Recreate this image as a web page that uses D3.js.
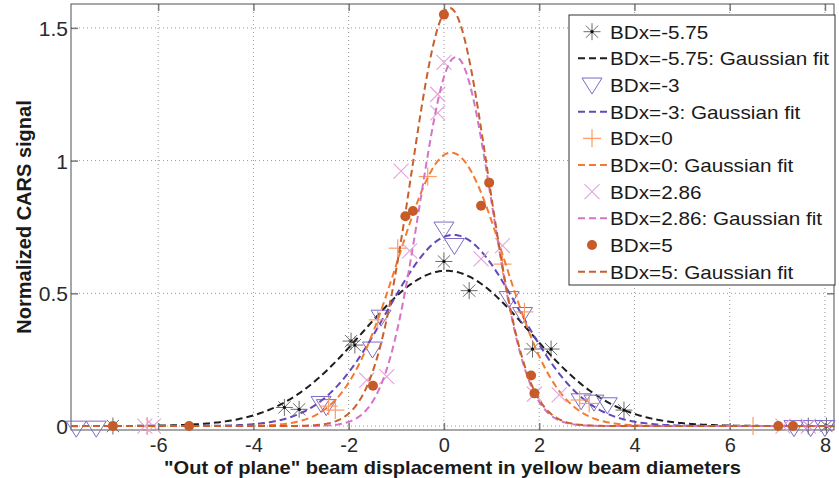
<!DOCTYPE html>
<html><head><meta charset="utf-8">
<script src="https://cdn.jsdelivr.net/npm/d3@7"></script>
<style>html,body{margin:0;padding:0;background:#fff}svg{display:block;font-family:"Liberation Sans",Arial,sans-serif}</style>
</head><body><svg id="c" width="839" height="478"></svg>
<script>
// ---- data ----
const seriesNames = ["BDx=-5.75","BDx=-3","BDx=0","BDx=2.86","BDx=5"];
const xTicks = [-6,-4,-2,0,2,4,6,8];
const xTickLabels = ["-6","-4","-2","0","2","4","6","8"];
const yTicks = [0,0.5,1,1.5];
const yTickLabels = ["0","0.5","1","1.5"];

const s1x = [-6.95,-3.35,-3.04,-1.95,-1.87,0.0,0.53,1.86,2.25,3.78,7.65,8.03];
const s1y = [0,0.07,0.063,0.32,0.305,0.62,0.51,0.29,0.29,0.06,0,0];
const s2x = [-7.72,-7.3,-2.58,-2.47,-1.5,-1.32,0.0,0.22,1.37,1.65,2.88,3.15,3.43,7.35,7.7,8.0];
const s2y = [-0.008,-0.008,0.085,0.073,0.29,0.41,0.742,0.68,0.48,0.42,0.095,0.09,0.08,-0.006,-0.006,-0.006];
const s3x = [-6.23,-2.42,-2.28,-1.39,-0.97,-0.34,1.23,1.69,2.85,3.05,6.49];
const s3y = [0,0.075,0.06,0.40,0.67,0.94,0.61,0.43,0.098,0.085,0];
const s4x = [-6.28,-6.1,-1.62,-1.2,-0.9,-0.72,-0.13,-0.13,0.0,0.78,1.23,1.9,2.42,7.12,7.65];
const s4y = [0,0,0.173,0.186,0.96,0.66,1.25,1.18,1.37,0.63,0.68,0.12,0.117,0,0];
const s5x = [-6.95,-5.35,-1.49,-0.81,-0.65,0.0,0.78,0.95,1.83,1.9,7.02,7.33];
const s5y = [0,0,0.152,0.79,0.81,1.55,0.83,0.917,0.19,0.123,0,0];

// Gaussian fit parameters (amplitude, centre, sigma) per series
const fitA  = [0.585,0.72,1.03,1.39,1.575];
const fitMu = [0.05,0.2,0.15,0.25,0.12];
const fitSd = [1.75,1.38,1.12,0.75,0.8];

// ---- layout ----
const svg = d3.select("#c");
const L=71,R=834,T=4,B=430;
const x = d3.scaleLinear().domain([-7.83,8.19]).range([L,R]);
const y = d3.scaleLinear().domain([-0.015,1.59]).range([B,T]);

const markerColors = ["#6a6a6a","#7a6ac8","#ff9a66","#e6a0dc","#c65a28"];
const fitColors = ["#1e1e1e","#6448b8","#f47a30","#d474c6","#c8602c"];
const markerTypes = ["star","tri","plus","cross","dot"];

// grid
const g = svg.append("g");
g.selectAll(".gx").data(xTicks).enter().append("line")
  .attr("x1",d=>x(d)).attr("x2",d=>x(d)).attr("y1",T).attr("y2",B)
  .attr("stroke","#9a9a9a").attr("stroke-width",1).attr("stroke-dasharray","1,3");
g.selectAll(".gy").data(yTicks).enter().append("line")
  .attr("x1",L).attr("x2",R).attr("y1",d=>y(d)).attr("y2",d=>y(d))
  .attr("stroke","#9a9a9a").attr("stroke-width",1).attr("stroke-dasharray","1,3");

// axes with d3 axes
const axB = svg.append("g").attr("transform",`translate(0,${B})`)
  .call(d3.axisBottom(x).tickValues(xTicks).tickFormat((d,i)=>xTickLabels[i]).tickSizeInner(-7).tickSizeOuter(0).tickPadding(10));
const axT = svg.append("g").attr("transform",`translate(0,${T})`)
  .call(d3.axisTop(x).tickValues(xTicks).tickFormat("").tickSizeInner(-7).tickSizeOuter(0));
const axL = svg.append("g").attr("transform",`translate(${L},0)`)
  .call(d3.axisLeft(y).tickValues(yTicks).tickFormat((d,i)=>yTickLabels[i]).tickSizeInner(-7).tickSizeOuter(0).tickPadding(3));
const axR = svg.append("g").attr("transform",`translate(${R},0)`)
  .call(d3.axisRight(y).tickValues(yTicks).tickFormat("").tickSizeInner(-7).tickSizeOuter(0));
[axB,axT,axL,axR].forEach(a=>{
  a.select(".domain").remove();
  a.selectAll(".tick line").attr("stroke","#7a7a7a").attr("stroke-width",1.5);
  a.selectAll(".tick text").attr("fill","#2a2a2a").style("font-size","21px").style("font-family","'Liberation Sans',Arial,sans-serif");
});
axL.selectAll(".tick text").attr("dy","0.36em");
axB.selectAll(".tick text").attr("dy","0.62em").style("font-size","20px");

svg.append("rect").attr("x",L).attr("y",T).attr("width",R-L).attr("height",B-T)
  .attr("fill","none").attr("stroke","#505050").attr("stroke-width",1);

// markers
function drawMarker(sel,type,color){
  if(type==="star"){
    const r=8.5, d=r*0.72;
    sel.append("line").attr("x1",-r).attr("x2",r).attr("y1",0).attr("y2",0);
    sel.append("line").attr("x1",0).attr("x2",0).attr("y1",-r).attr("y2",r);
    sel.append("line").attr("x1",-d).attr("x2",d).attr("y1",-d).attr("y2",d);
    sel.append("line").attr("x1",-d).attr("x2",d).attr("y1",d).attr("y2",-d);
    sel.selectAll("line").attr("stroke",color).attr("stroke-width",1);
    sel.append("circle").attr("r",1.6).attr("fill","#111");
  } else if(type==="tri"){
    sel.append("path").attr("d","M-10,-7L10,-7L0,9Z").attr("fill","none").attr("stroke",color).attr("stroke-width",1);
  } else if(type==="plus"){
    const r=9;
    sel.append("line").attr("x1",-r).attr("x2",r).attr("y1",0).attr("y2",0);
    sel.append("line").attr("x1",0).attr("x2",0).attr("y1",-r).attr("y2",r);
    sel.selectAll("line").attr("stroke",color).attr("stroke-width",1.2);
  } else if(type==="cross"){
    const r=7.5;
    sel.append("line").attr("x1",-r).attr("x2",r).attr("y1",-r).attr("y2",r);
    sel.append("line").attr("x1",-r).attr("x2",r).attr("y1",r).attr("y2",-r);
    sel.selectAll("line").attr("stroke",color).attr("stroke-width",1.1);
  } else {
    sel.append("circle").attr("r",5).attr("fill",color);
  }
}

const allX=[s1x,s2x,s3x,s4x,s5x], allY=[s1y,s2y,s3y,s4y,s5y];
svg.append("clipPath").attr("id","pc").append("rect").attr("x",L).attr("y",T).attr("width",R-L).attr("height",B-T);
const line = d3.line().x(d=>x(d[0])).y(d=>y(d[1]));
const xsamp = d3.range(0,401).map(i=>-7.83+i*(16.02/400));

for(let k=0;k<5;k++){
  const pts = allX[k].map((v,i)=>[v,allY[k][i]]);
  svg.append("g").selectAll("g").data(pts).enter().append("g")
    .attr("transform",d=>`translate(${x(d[0])},${y(d[1])})`)
    .each(function(){drawMarker(d3.select(this),markerTypes[k],markerColors[k]);});
  const fit = xsamp.map(v=>[v,fitA[k]*Math.exp(-Math.pow(v-fitMu[k],2)/(2*fitSd[k]*fitSd[k]))]);
  svg.append("path").datum(fit).attr("d",line).attr("fill","none")
    .attr("stroke",fitColors[k]).attr("stroke-width",2).attr("stroke-dasharray","7,4")
    .attr("clip-path","url(#pc)");
}

// legend
const lg = svg.append("g");
lg.append("rect").attr("x",569).attr("y",15).attr("width",266).attr("height",270)
  .attr("fill","#fff").attr("stroke","#333").attr("stroke-width",1);
const rowY = d3.scaleLinear().domain([0,9]).range([31.7,271.7]);
const texts = [];
for(let k=0;k<5;k++){
  const ym = rowY(2*k), yf = rowY(2*k+1);
  const mg = lg.append("g").attr("transform",`translate(592,${ym})`);
  drawMarker(mg,markerTypes[k],markerColors[k]);
  texts.push(lg.append("text").attr("x",610).attr("y",ym).attr("dy","0.36em").text(seriesNames[k])
    .attr("fill","#1a1a1a").style("font-size","19px"));
  lg.append("line").attr("x1",578).attr("x2",607).attr("y1",yf).attr("y2",yf)
    .attr("stroke",fitColors[k]).attr("stroke-width",2).attr("stroke-dasharray","7,4");
  texts.push(lg.append("text").attr("x",610).attr("y",yf).attr("dy","0.36em").text(seriesNames[k]+": Gaussian fit")
    .attr("fill","#1a1a1a").style("font-size","19px"));
}
// stretch legend texts horizontally to match the reference width
const wLong = texts[1].node().getComputedTextLength();
const factor = wLong>0 ? 219/wLong : 1;
texts.forEach(t=>{const w=t.node().getComputedTextLength(); if(w>0) t.attr("textLength",w*factor).attr("lengthAdjust","spacingAndGlyphs");});

// axis titles
svg.append("text").attr("x",(L+R)/2).attr("y",474).attr("text-anchor","middle")
  .style("font-size","19px").style("font-weight","bold").attr("fill","#1a1a1a")
  .attr("textLength",577).attr("lengthAdjust","spacingAndGlyphs")
  .text("\"Out of plane\" beam displacement in yellow beam diameters");
svg.append("text").attr("transform",`translate(31,${(T+B)/2}) rotate(-90)`).attr("text-anchor","middle")
  .style("font-size","20px").style("font-weight","bold").attr("fill","#1a1a1a")
  .text("Normalized CARS signal");
</script></body></html>
